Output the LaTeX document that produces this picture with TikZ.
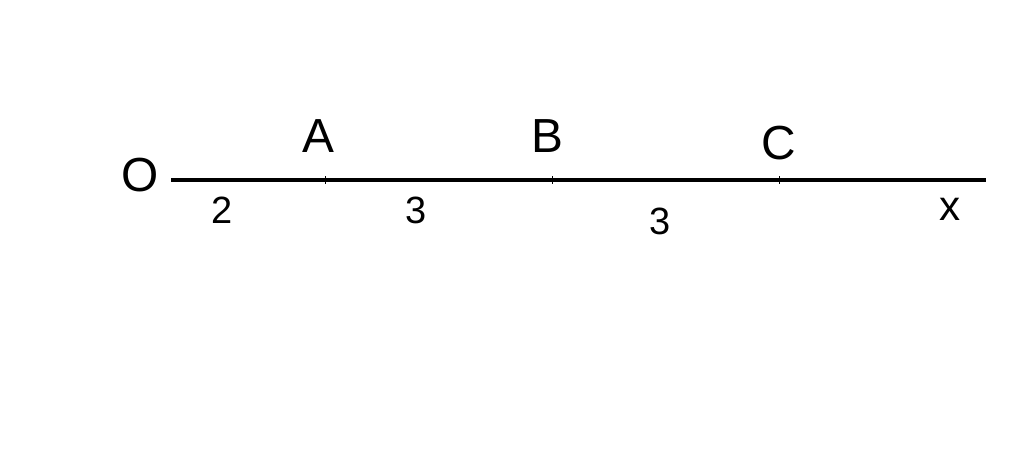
\documentclass[tikz,border=0pt]{standalone}
\usepackage{fontspec}
\setsansfont{Liberation Sans}

\tikzset{
	pointname/.style={font=\sffamily\fontsize{34}{34}\selectfont, inner sep=0pt},
	seglength/.style={font=\sffamily\fontsize{27}{27}\selectfont, inner sep=0pt},
	axisline/.style={line width=2.8pt},
	axistick/.style={line width=0.6pt}
}

\begin{document}
\begin{tikzpicture}[x=0.025cm,y=-0.025cm]%[show background grid]

	\useasboundingbox (0,0) rectangle (1024,453);

	\coordinate (start) at (171,180);
	\coordinate (ptA) at (325,180);
	\coordinate (ptB) at (552,180);
	\coordinate (ptC) at (779,180);
	\coordinate (stop) at (986,180);

	\draw[axisline] (start) -- (stop);
	\foreach \p in {ptA,ptB,ptC}
		\draw[axistick] (\p) ++(0,-4) -- ++(0,8);

	\node[pointname] (labO) at (140,175) {O};
	\node[pointname] (labA) at (318,136) {A};
	\node[pointname] (labB) at (547,136) {B};
	\node[pointname] (labC) at (779,143) {C};

	\node[seglength] (lenOA) at (222,210) {2};
	\node[seglength] (lenAB) at (416,210) {3};
	\node[seglength] (lenBC) at (660,221) {3};
	\node[pointname, font=\sffamily\fontsize{30}{30}\selectfont] (labx) at (950,209) {x};

\end{tikzpicture}
\end{document}
